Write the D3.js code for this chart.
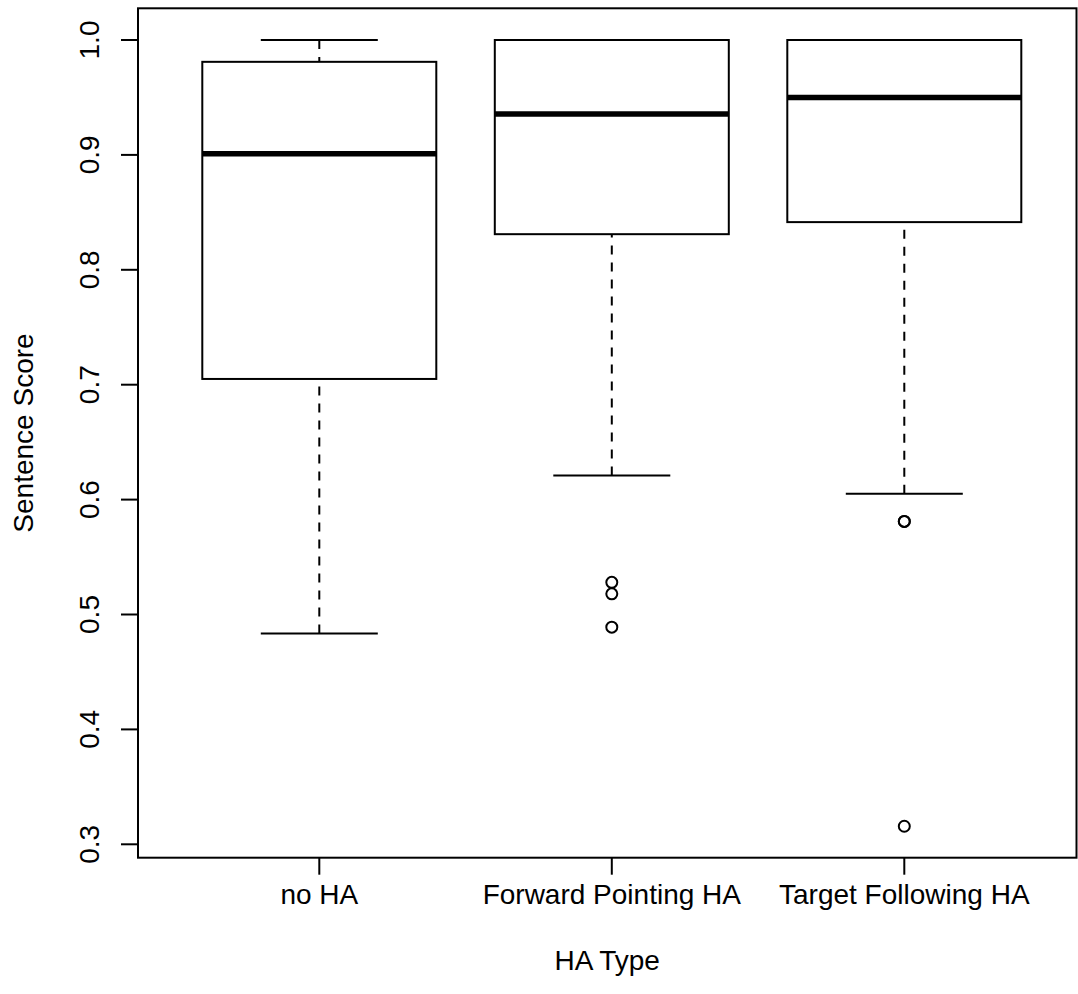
<!DOCTYPE html>
<html>
<head>
<meta charset="utf-8">
<script src="https://cdn.jsdelivr.net/npm/d3@7"></script>
<style>
  body { margin: 0; background: #fff; }
  text { font-family: "Liberation Sans", Arial, sans-serif; fill: #000; }
</style>
</head>
<body>
<svg></svg>
<script>
const WIDTH = 1078;
const HEIGHT = 994;

// data
const categories = ["no HA", "Forward Pointing HA", "Target Following HA"];
const whiskerLow  = [0.4835, 0.621, 0.605];
const q1          = [0.705, 0.831, 0.8415];
const median      = [0.901, 0.9357, 0.950];
const q3          = [0.981, 1.0, 1.0];
const whiskerHigh = [1.0, 1.0, 1.0];
const outliers    = [[], [0.528, 0.518, 0.489], [0.581, 0.581, 0.3157]];
const yTicks      = [0.3, 0.4, 0.5, 0.6, 0.7, 0.8, 0.9, 1.0];

const FONT = 28;
const FRAME = {left: 138, right: 1076.5, top: 8.3, bottom: 857.7};

var svg = d3.select("svg")
    .attr("width", WIDTH)
    .attr("height", HEIGHT);

svg.append("rect")
    .attr("width", WIDTH)
    .attr("height", HEIGHT)
    .attr("fill", "#fff");

var y = d3.scaleLinear().domain([0.3, 1.0]).range([844.3, 40]);
var x = d3.scaleLinear().domain([1, 3]).range([319.3, 904.3]);
const unit = x(2) - x(1);
const boxHalf = 0.4 * unit;
const capHalf = 0.2 * unit;

var boxes = categories.map((c, i) => ({
    name: c, pos: i + 1,
    lo: whiskerLow[i], q1: q1[i], med: median[i], q3: q3[i], hi: whiskerHigh[i],
    out: outliers[i]
}));

var g = svg.selectAll("g.box")
    .data(boxes)
    .enter().append("g")
    .attr("class", "box");

// whiskers, drawn from the whisker end towards the box like R does
g.append("line")
    .attr("x1", d => x(d.pos)).attr("x2", d => x(d.pos))
    .attr("y1", d => y(d.lo)).attr("y2", d => y(d.q1))
    .attr("stroke", "#000").attr("stroke-width", 2)
    .attr("stroke-dasharray", "9,8");
g.append("line")
    .attr("x1", d => x(d.pos)).attr("x2", d => x(d.pos))
    .attr("y1", d => y(d.hi)).attr("y2", d => y(d.q3))
    .attr("stroke", "#000").attr("stroke-width", 2)
    .attr("stroke-dasharray", "9,8");

// caps
["lo", "hi"].forEach(k => {
    g.append("line")
        .attr("x1", d => x(d.pos) - capHalf).attr("x2", d => x(d.pos) + capHalf)
        .attr("y1", d => y(d[k])).attr("y2", d => y(d[k]))
        .attr("stroke", "#000").attr("stroke-width", 2);
});

g.append("rect")
    .attr("x", d => x(d.pos) - boxHalf)
    .attr("width", 2 * boxHalf)
    .attr("y", d => y(d.q3))
    .attr("height", d => y(d.q1) - y(d.q3))
    .attr("fill", "#fff")
    .attr("stroke", "#000").attr("stroke-width", 2);

g.append("line")
    .attr("x1", d => x(d.pos) - boxHalf).attr("x2", d => x(d.pos) + boxHalf)
    .attr("y1", d => y(d.med)).attr("y2", d => y(d.med))
    .attr("stroke", "#000").attr("stroke-width", 5.5);

g.selectAll("circle")
    .data(d => d.out.map(v => ({pos: d.pos, v: v})))
    .enter().append("circle")
    .attr("cx", d => x(d.pos))
    .attr("cy", d => y(d.v))
    .attr("r", 5.5)
    .attr("fill", "none")
    .attr("stroke", "#000").attr("stroke-width", 2);

// frame
svg.append("rect")
    .attr("x", FRAME.left).attr("y", FRAME.top)
    .attr("width", FRAME.right - FRAME.left)
    .attr("height", FRAME.bottom - FRAME.top)
    .attr("fill", "none")
    .attr("stroke", "#000").attr("stroke-width", 2);

// y axis ticks + labels
svg.selectAll("line.ytick")
    .data(yTicks)
    .enter().append("line")
    .attr("x1", FRAME.left - 17).attr("x2", FRAME.left)
    .attr("y1", d => y(d)).attr("y2", d => y(d))
    .attr("stroke", "#000").attr("stroke-width", 2);

svg.selectAll("text.ylab")
    .data(yTicks)
    .enter().append("text")
    .attr("transform", d => `translate(99,${y(d)}) rotate(-90)`)
    .attr("text-anchor", "middle")
    .style("font-size", FONT + "px")
    .text(d => d.toFixed(1));

// x axis ticks + labels
svg.selectAll("line.xtick")
    .data(boxes)
    .enter().append("line")
    .attr("x1", d => x(d.pos)).attr("x2", d => x(d.pos))
    .attr("y1", FRAME.bottom).attr("y2", FRAME.bottom + 17)
    .attr("stroke", "#000").attr("stroke-width", 2);

svg.selectAll("text.xlab")
    .data(boxes)
    .enter().append("text")
    .attr("x", d => x(d.pos))
    .attr("y", 904)
    .attr("text-anchor", "middle")
    .style("font-size", FONT + "px")
    .text(d => d.name);

svg.append("text")
    .attr("x", (FRAME.left + FRAME.right) / 2)
    .attr("y", 970)
    .attr("text-anchor", "middle")
    .style("font-size", FONT + "px")
    .text("HA Type");

svg.append("text")
    .attr("transform", `translate(33,${(FRAME.top + FRAME.bottom) / 2}) rotate(-90)`)
    .attr("text-anchor", "middle")
    .style("font-size", FONT + "px")
    .text("Sentence Score");
</script>
</body>
</html>
